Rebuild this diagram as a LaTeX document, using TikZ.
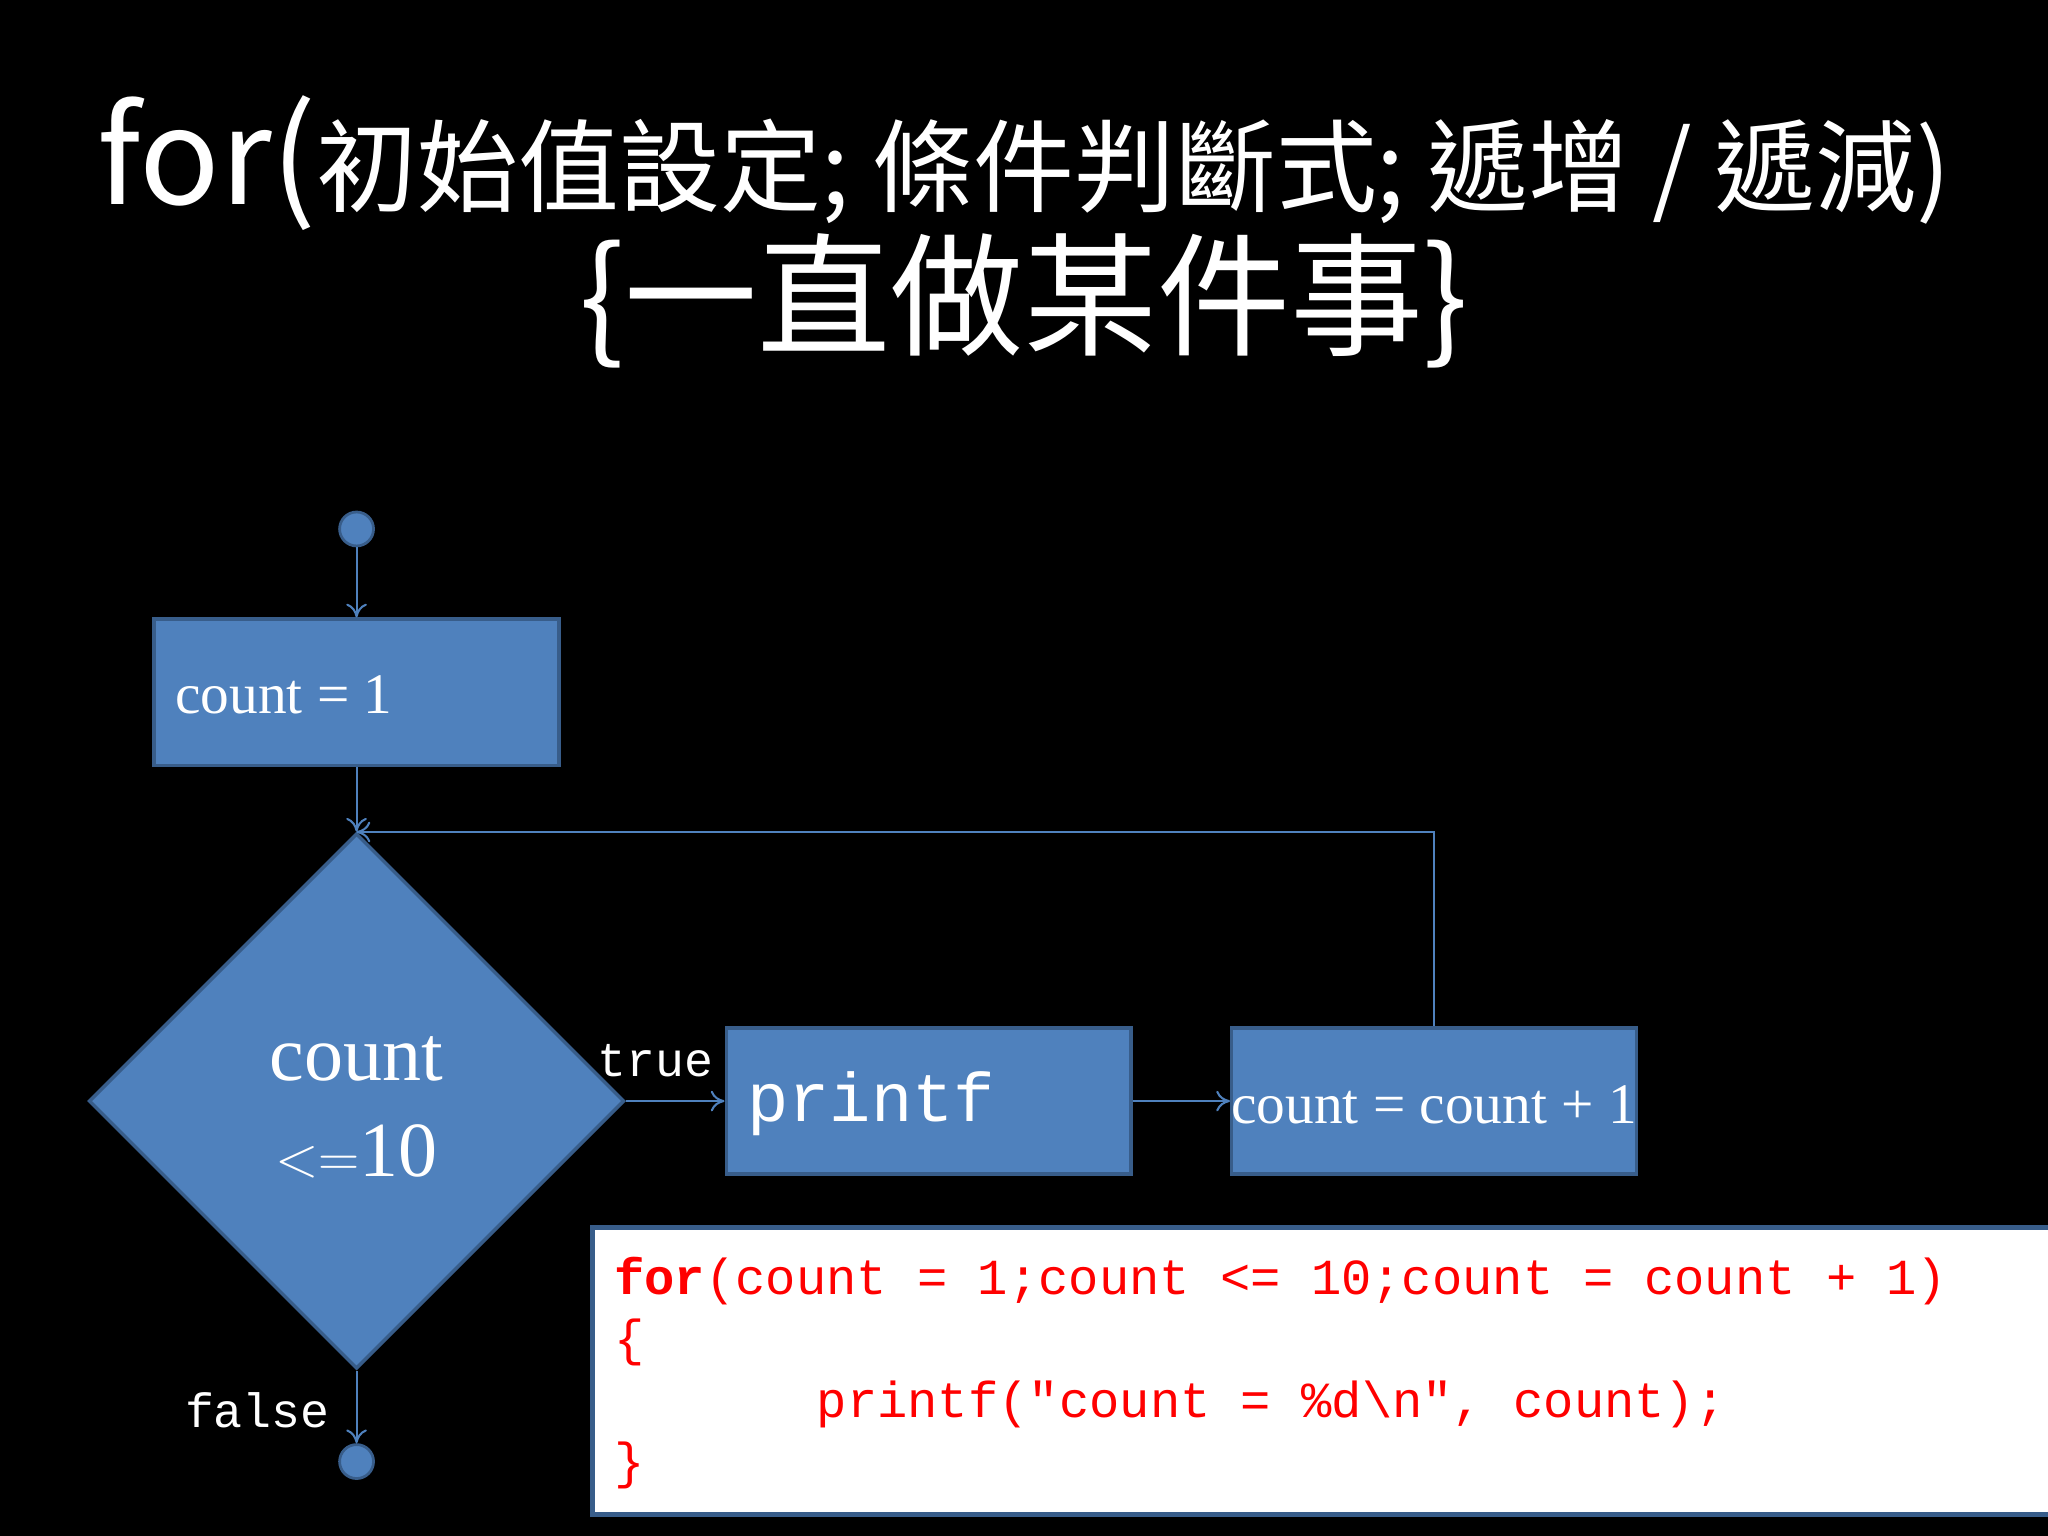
\documentclass[tikz,border=0pt]{standalone}
\usepackage{fontspec}
\setmainfont{Liberation Serif}
\setmonofont{Liberation Mono}
\newfontfamily\cjk{Noto Sans CJK TC}
\usetikzlibrary{shapes.geometric,arrows.meta}
\definecolor{fillb}{HTML}{4F81BD}
\definecolor{edgeb}{HTML}{385D8A}
\definecolor{codered}{HTML}{FF0000}
\begin{document}
\begin{tikzpicture}[x=0.02cm,y=-0.02cm,
  box/.style={draw=edgeb,line width=1.5pt,fill=fillb,minimum width=6.2cm,minimum height=2.24cm,inner sep=0},
  flow/.style={draw=fillb,line width=0.9pt,-{To[length=6pt,width=9pt]}},
  dot/.style={circle,draw=edgeb,line width=1.2pt,fill=fillb,minimum size=0.52cm,inner sep=0},
  codeline/.style={anchor=base west,text=codered,font=\ttfamily\fontsize{22}{24}\selectfont,inner sep=0}]
\fill[black] (0,0) rectangle (1568,1176);
\useasboundingbox (0,0) rectangle (1568,1176);
\node[text=white,inner sep=0] (t1) at (784,125) {\cjk\fontsize{58}{60}\selectfont for(\fontsize{44}{48}\selectfont 初始值設定; 條件判斷式; 遞增 / 遞減)};
\node[text=white,inner sep=0] (t2) at (784,230) {\cjk\fontsize{58}{60}\selectfont \{一直做某件事\}};
\node[dot] (s) at (273,405) {};
\node[box] (b1) at (273,530) {};
\node[text=white,anchor=west,font=\fontsize{25}{28}\selectfont] (b1t) at (128,532) {count = 1};
\node[diamond,draw=edgeb,line width=1.5pt,fill=fillb,minimum width=8.2cm,minimum height=8.2cm,inner sep=0] (d) at (273,843) {};
\node[text=white,font=\fontsize{34}{42}\selectfont,align=center] (dt) at (273,848) {count\\$<=$10};
\node[box] (p) at (711,843) {};
\node[text=white,anchor=west,font=\ttfamily\fontsize{30}{32}\selectfont] (pt) at (566,845) {printf};
\node[box] (c) at (1098,843) {};
\node[text=white,font=\fontsize{25}{28}\selectfont] (ct) at (1098,846) {count = count + 1};
\node[dot] (e) at (273,1119) {};
\node[text=white,font=\ttfamily\fontsize{21}{24}\selectfont] (tl) at (502,812) {true};
\node[text=white,font=\ttfamily\fontsize{21}{24}\selectfont] (fl) at (197,1080) {false};
\coordinate (lt) at (1098,637);
\coordinate (ll) at (273,637);
\draw[flow] (s) -- (b1);
\draw[flow] (b1) -- (d.north);
\draw[flow] (d.east) -- (p);
\draw[flow] (p) -- (c);
\draw[flow] (d.south) -- (e);
\draw[draw=fillb,line width=0.9pt] (c.north) -- (lt) -- (ll);
\draw[flow] (lt) -- (ll);
\node[draw=edgeb,line width=2pt,fill=white,minimum width=22.8cm,minimum height=4.4cm,anchor=north west,inner sep=0] (code) at (452,938) {};
\node[codeline] (l1) at (470,991) {\textbf{for}(count = 1;count <= 10;count = count + 1)};
\node[codeline] (l2) at (470,1038) {\{};
\node[codeline] (l3) at (625,1085) {printf("count = \%d\textbackslash n", count);};
\node[codeline] (l4) at (470,1132) {\}};
\end{tikzpicture}
\end{document}
